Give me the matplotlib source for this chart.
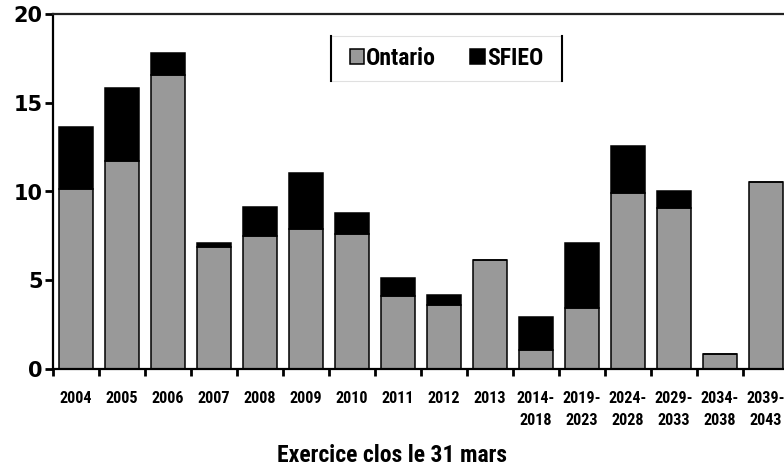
import numpy as np
import matplotlib.pyplot as plt
from matplotlib.lines import Line2D
from matplotlib.patches import Rectangle

plt.rcParams['font.family'] = ['Roboto Condensed', 'DejaVu Sans Condensed', 'Liberation Sans Narrow', 'Roboto']
plt.rcParams['font.weight'] = 'bold'

# exercice clos le 31 mars
years = ["2004", "2005", "2006", "2007", "2008", "2009", "2010", "2011",
         "2012", "2013", "2014-\n2018", "2019-\n2023", "2024-\n2028",
         "2029-\n2033", "2034-\n2038", "2039-\n2043"]
ontario = [10.14, 11.74, 16.56, 6.89, 7.51, 7.89, 7.62, 4.13,
           3.60, 6.12, 1.07, 3.46, 9.93, 9.09, 0.82, 10.55]
sfieo = [3.49, 4.07, 1.24, 0.19, 1.62, 3.13, 1.15, 0.98,
         0.55, 0.0, 1.84, 3.62, 2.63, 0.94, 0.0, 0.0]

grey = '#999999'

fig = plt.figure(figsize=(7.84, 4.70), dpi=100)
ax = fig.add_axes([53/784, 101/470, 736/784, 355/470])

x = np.arange(len(years))
w = 0.72
ax.bar(x, ontario, w, color=grey, edgecolor='black', linewidth=1.1, label='Ontario')
ax.bar(x, sfieo, w, bottom=ontario, color='black', edgecolor='black', linewidth=1.1, label='SFIEO')

ax.set_xlim(-0.5, len(years) - 0.5)
ax.set_ylim(0, 20)
ax.set_yticks([0, 5, 10, 15, 20])
ax.set_yticklabels(['0', '5', '10', '15', '20'], family='DejaVu Sans', fontsize=15, fontweight='bold')
ax.set_xticks(x)
ax.set_xticklabels(years, fontsize=11.6, fontweight='bold', linespacing=1.6)
ax.set_xticks(np.arange(len(years)) - 0.5, minor=True)
ax.tick_params(axis='x', which='major', length=0, pad=15.5)
ax.tick_params(axis='x', which='minor', length=5, width=2, direction='out')
ax.tick_params(axis='y', length=6, width=2, pad=1.5)

for s in ['left', 'bottom', 'top']:
    ax.spines[s].set_linewidth(1.6)
ax.spines['top'].set_color('#222222')
ax.spines['right'].set_visible(False)

ax.set_xlabel('Exercice clos le 31 mars', fontsize=17, fontweight='bold', labelpad=12)
ax.xaxis.label.set_x(0.4606)  # centred on the figure, not on the axes

leg = ax.legend(loc='center', bbox_to_anchor=(0.5346, 0.8746), ncol=2,
                fontsize=17, frameon=False,
                handlelength=0.6, handleheight=0.6, handletextpad=0.1,
                columnspacing=1.45, borderpad=0.45)

# legend box: light grey frame with black sides
fig.canvas.draw()
bb = leg.get_window_extent().transformed(fig.transFigure.inverted())
padx = 8 / 784
x0, x1 = bb.x0 - padx, bb.x1 + padx
fig.add_artist(Rectangle((x0, bb.y0), x1 - x0, bb.y1 - bb.y0, transform=fig.transFigure,
                         facecolor='none', edgecolor='#e0e0e0', linewidth=0.8))
for xx in (x0, x1):
    fig.add_artist(Line2D([xx, xx], [bb.y0, bb.y1], color='black', linewidth=1.5))

fig.savefig('out.png', dpi=100)
